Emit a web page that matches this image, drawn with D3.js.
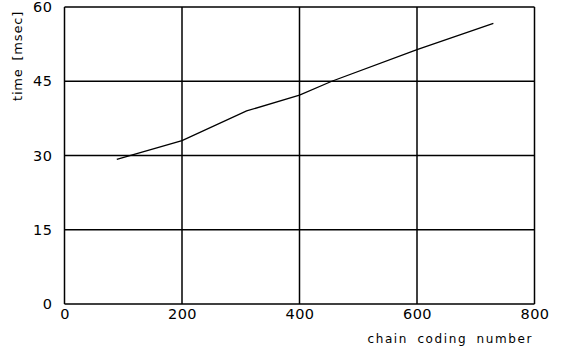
<!DOCTYPE html>
<html><head><meta charset="utf-8">
<script src="https://cdn.jsdelivr.net/npm/d3@7"></script>
<style>body{margin:0;background:#fff}svg text{font-family:"DejaVu Sans",sans-serif;fill:#000}</style>
</head><body><svg id="c" width="561" height="350"></svg>
<script>
const chainNumber = [89, 200, 310, 400, 455, 600, 730];
const timeMsec = [29.2, 33.0, 39.0, 42.2, 45.0, 51.4, 56.7];
const xTicks = [0, 200, 400, 600, 800];
const yTicks = [0, 15, 30, 45, 60];
const xLabel = "chain coding number";
const yLabel = "time [msec]";

const svg = d3.select("#c");
const x = d3.scaleLinear().domain([0, 800]).range([64.5, 534.5]);
const y = d3.scaleLinear().domain([0, 60]).range([304, 7]);

// grid
svg.append("g").selectAll("line").data(xTicks).join("line")
  .attr("x1", d => x(d)).attr("x2", d => x(d)).attr("y1", y(0)).attr("y2", y(60))
  .attr("stroke", "#000").attr("stroke-width", 1.5);
svg.append("g").selectAll("line").data(yTicks).join("line")
  .attr("x1", x(0)).attr("x2", x(800)).attr("y1", d => y(d)).attr("y2", d => y(d))
  .attr("stroke", "#000").attr("stroke-width", 1.5);

// axes labels
const xa = svg.append("g").attr("transform", `translate(0,${y(0)})`)
  .call(d3.axisBottom(x).tickValues(xTicks).tickSize(0).tickPadding(5));
xa.select(".domain").remove();
xa.selectAll("text").attr("font-size", 14.5).attr("font-family", "DejaVu Sans").attr("fill", "#000").attr("letter-spacing", 0.5);
const ya = svg.append("g").attr("transform", `translate(${x(0)},0)`)
  .call(d3.axisLeft(y).tickValues(yTicks).tickSize(0).tickPadding(12));
ya.select(".domain").remove();
ya.selectAll("text").attr("font-size", 14.5).attr("font-family", "DejaVu Sans").attr("fill", "#000").attr("letter-spacing", 0.5);

// data line
const pts = chainNumber.map((c, i) => [c, timeMsec[i]]);
svg.append("path").datum(pts)
  .attr("d", d3.line().x(d => x(d[0])).y(d => y(d[1])))
  .attr("fill", "none").attr("stroke", "#000").attr("stroke-width", 1.3);

svg.append("text").attr("x", 533).attr("y", 343).attr("text-anchor", "end")
  .attr("font-size", 12).attr("letter-spacing", 1.6).attr("word-spacing", 4).text(xLabel);
svg.append("text").attr("transform", "translate(22,56) rotate(-90)")
  .attr("text-anchor", "middle").attr("font-size", 13).attr("letter-spacing", 0.8).attr("word-spacing", 3).text(yLabel);
</script></body></html>
